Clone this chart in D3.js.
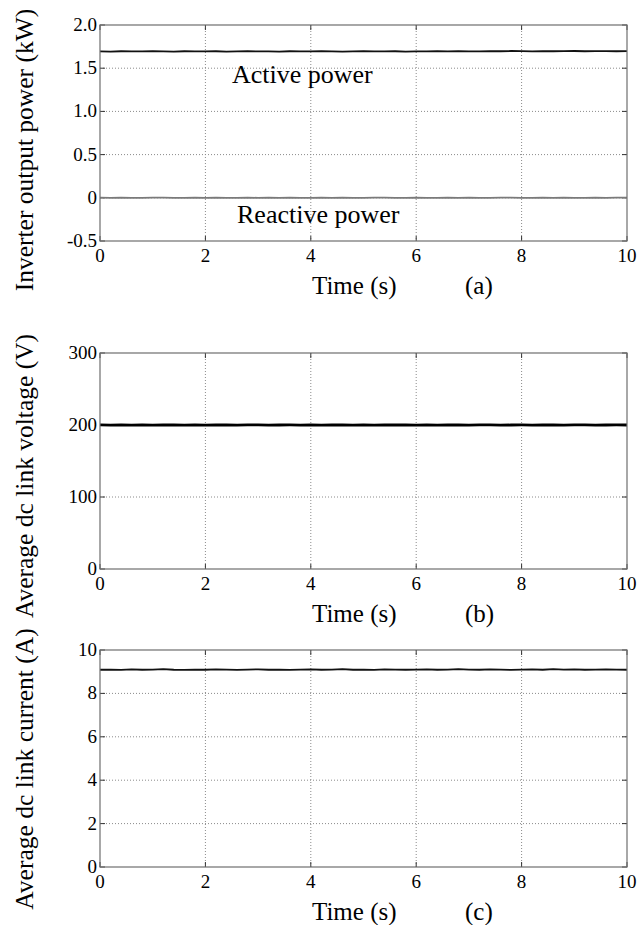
<!DOCTYPE html>
<html>
<head>
<meta charset="utf-8">
<script src="https://cdn.jsdelivr.net/npm/d3@7"></script>
<style>
  html, body { margin: 0; padding: 0; background: #fff; }
  svg { display: block; }
  text { font-family: "Liberation Serif", "Times New Roman", serif; fill: #000; }
</style>
</head>
<body>
<div id="chart"></div>
<script>
// ---------------- data ----------------
const time = [0,0.2,0.4,0.6,0.8,1.0,1.2,1.4,1.6,1.8,
              2.0,2.2,2.4,2.6,2.8,3.0,3.2,3.4,3.6,3.8,
              4.0,4.2,4.4,4.6,4.8,5.0,5.2,5.4,5.6,5.8,
              6.0,6.2,6.4,6.6,6.8,7.0,7.2,7.4,7.6,7.8,
              8.0,8.2,8.4,8.6,8.8,9.0,9.2,9.4,9.6,9.8,
              10.0];

// (a) inverter output power, kW
const activePower = [1.695,1.693,1.696,1.694,1.695,1.697,1.694,1.693,1.696,1.695,
                     1.694,1.696,1.693,1.695,1.697,1.694,1.695,1.693,1.696,1.694,
                     1.695,1.696,1.694,1.693,1.695,1.697,1.694,1.695,1.696,1.693,
                     1.695,1.694,1.696,1.695,1.697,1.694,1.695,1.698,1.696,1.699,
                     1.697,1.695,1.698,1.696,1.697,1.699,1.696,1.698,1.697,1.696,
                     1.697];
const reactivePower = [0.002,-0.001,0.001,0.000,-0.002,0.001,0.002,-0.001,0.000,0.001,
                       -0.001,0.002,0.000,-0.002,0.001,0.000,0.002,-0.001,0.001,-0.002,
                       0.000,0.001,-0.001,0.002,0.000,-0.001,0.001,0.002,-0.002,0.000,
                       0.001,-0.001,0.000,0.002,-0.001,0.001,0.000,-0.002,0.001,0.002,
                       -0.001,0.000,0.001,-0.002,0.002,0.000,-0.001,0.001,0.000,0.002,
                       0.001];
// (b) average dc link voltage, V
const dcVoltage = [200.2,199.8,200.1,199.9,200.3,199.8,200.0,200.2,199.9,200.1,
                   199.8,200.2,200.0,199.9,200.1,200.3,199.8,200.0,200.1,199.9,
                   200.2,199.8,200.1,200.0,199.9,200.2,199.8,200.1,200.0,200.3,
                   199.9,200.1,199.8,200.2,200.0,199.9,200.1,200.2,199.8,200.0,
                   200.1,199.9,200.2,200.0,199.8,200.1,200.3,199.9,200.0,200.1,
                   200.0];
// (c) average dc link current, A
const dcCurrent = [9.09,9.10,9.08,9.11,9.09,9.10,9.12,9.09,9.08,9.10,
                   9.09,9.11,9.10,9.08,9.10,9.11,9.09,9.10,9.08,9.10,
                   9.11,9.09,9.10,9.12,9.09,9.10,9.08,9.11,9.10,9.09,
                   9.10,9.11,9.09,9.10,9.12,9.10,9.09,9.11,9.10,9.08,
                   9.10,9.11,9.09,9.12,9.10,9.11,9.09,9.10,9.11,9.10,
                   9.09];

const xTicks = [0,2,4,6,8,10];
const xTickLabels = ["0","2","4","6","8","10"];
const yTicksA = [-0.5,0,0.5,1.0,1.5,2.0];
const yTickLabelsA = ["-0.5","0","0.5","1.0","1.5","2.0"];
const yTicksB = [0,100,200,300];
const yTickLabelsB = ["0","100","200","300"];
const yTicksC = [0,2,4,6,8,10];
const yTickLabelsC = ["0","2","4","6","8","10"];

const yTitles = ["Inverter output power (kW)", "Average dc link voltage (V)", "Average dc link current (A)"];
const panelTags = ["(a)", "(b)", "(c)"];
const xTitle = "Time (s)";

// ---------------- layout ----------------
const W = 639, H = 925;
const left = 100, right = 627;
const FONT = "'Liberation Serif', 'Times New Roman', serif";

const svg = d3.select("#chart").append("svg")
  .attr("width", W).attr("height", H)
  .style("background", "#fff");

const x = d3.scaleLinear().domain([0, 10]).range([left, right]);

const panels = [
  { top: 25,  bottom: 241, domain: [-0.5, 2], ticks: yTicksA, labels: yTickLabelsA, titleY: 150,
    series: [ { values: reactivePower, color: "#7a7a7a", width: 1.8 },
              { values: activePower,   color: "#111",    width: 1.8 } ] },
  { top: 353, bottom: 569, domain: [0, 300], ticks: yTicksB, labels: yTickLabelsB, titleY: 476,
    series: [ { values: dcVoltage, color: "#000", width: 2.8 } ] },
  { top: 650, bottom: 867, domain: [0, 10], ticks: yTicksC, labels: yTickLabelsC, titleY: 769,
    series: [ { values: dcCurrent, color: "#111", width: 1.8 } ] }
];

const gridColor = "#8a8a8a";
const boxColor = "#6e6e6e";

panels.forEach((p, i) => {
  const y = d3.scaleLinear().domain(p.domain).range([p.bottom, p.top]);
  const g = svg.append("g").attr("font-family", FONT);

  // grid (dotted), interior ticks only
  g.selectAll(".vgrid").data(xTicks.filter(t => t > 0 && t < 10)).enter()
    .append("line")
    .attr("x1", d => x(d)).attr("x2", d => x(d))
    .attr("y1", p.top).attr("y2", p.bottom)
    .attr("stroke", gridColor).attr("stroke-width", 1)
    .attr("stroke-dasharray", "1,2");
  const dom = p.domain;
  g.selectAll(".hgrid").data(p.ticks.filter(t => t > dom[0] && t < dom[1])).enter()
    .append("line")
    .attr("x1", left).attr("x2", right)
    .attr("y1", d => y(d)).attr("y2", d => y(d))
    .attr("stroke", gridColor).attr("stroke-width", 1)
    .attr("stroke-dasharray", "1,2");

  // inward tick marks
  const tl = 5;
  xTicks.forEach(t => {
    g.append("line").attr("x1", x(t)).attr("x2", x(t)).attr("y1", p.bottom).attr("y2", p.bottom - tl)
      .attr("stroke", "#333").attr("stroke-width", 1);
    g.append("line").attr("x1", x(t)).attr("x2", x(t)).attr("y1", p.top).attr("y2", p.top + tl)
      .attr("stroke", "#333").attr("stroke-width", 1);
  });
  p.ticks.forEach(t => {
    g.append("line").attr("x1", left).attr("x2", left + tl).attr("y1", y(t)).attr("y2", y(t))
      .attr("stroke", "#333").attr("stroke-width", 1);
    g.append("line").attr("x1", right).attr("x2", right - tl).attr("y1", y(t)).attr("y2", y(t))
      .attr("stroke", "#333").attr("stroke-width", 1);
  });

  // data lines
  const line = d3.line().x((d, k) => x(time[k])).y(d => y(d));
  p.series.forEach(s => {
    g.append("path").datum(s.values)
      .attr("d", line)
      .attr("fill", "none")
      .attr("stroke", s.color)
      .attr("stroke-width", s.width)
      .attr("stroke-linejoin", "round");
  });

  // box
  g.append("rect")
    .attr("x", left).attr("y", p.top)
    .attr("width", right - left).attr("height", p.bottom - p.top)
    .attr("fill", "none").attr("stroke", boxColor).attr("stroke-width", 1.2);

  // tick labels
  g.selectAll(".xl").data(xTicks).enter().append("text")
    .attr("font-family", FONT)
    .attr("x", d => x(d)).attr("y", p.bottom + 21)
    .attr("text-anchor", "middle").attr("font-size", 19)
    .text((d, k) => xTickLabels[k]);
  g.selectAll(".yl").data(p.ticks).enter().append("text")
    .attr("font-family", FONT)
    .attr("x", left - 3).attr("y", d => y(d)).attr("dy", "0.32em")
    .attr("text-anchor", "end").attr("font-size", 19)
    .text((d, k) => p.labels[k]);

  // x title and panel tag
  g.append("text").attr("font-family", FONT).attr("x", 312).attr("y", p.bottom + 53)
    .attr("font-size", 25).text(xTitle);
  g.append("text").attr("font-family", FONT).attr("x", 465).attr("y", p.bottom + 53)
    .attr("font-size", 25).text(panelTags[i]);

  // y title
  g.append("text").attr("font-family", FONT)
    .attr("transform", `translate(33,${p.titleY}) rotate(-90)`)
    .attr("text-anchor", "middle").attr("font-size", 25.5)
    .text(yTitles[i]);
});

// annotations in panel (a)
svg.append("text").attr("font-family", FONT).attr("x", 232).attr("y", 83).attr("font-size", 26).text("Active power");
svg.append("text").attr("font-family", FONT).attr("x", 237).attr("y", 223).attr("font-size", 26).text("Reactive power");
</script>
</body>
</html>
